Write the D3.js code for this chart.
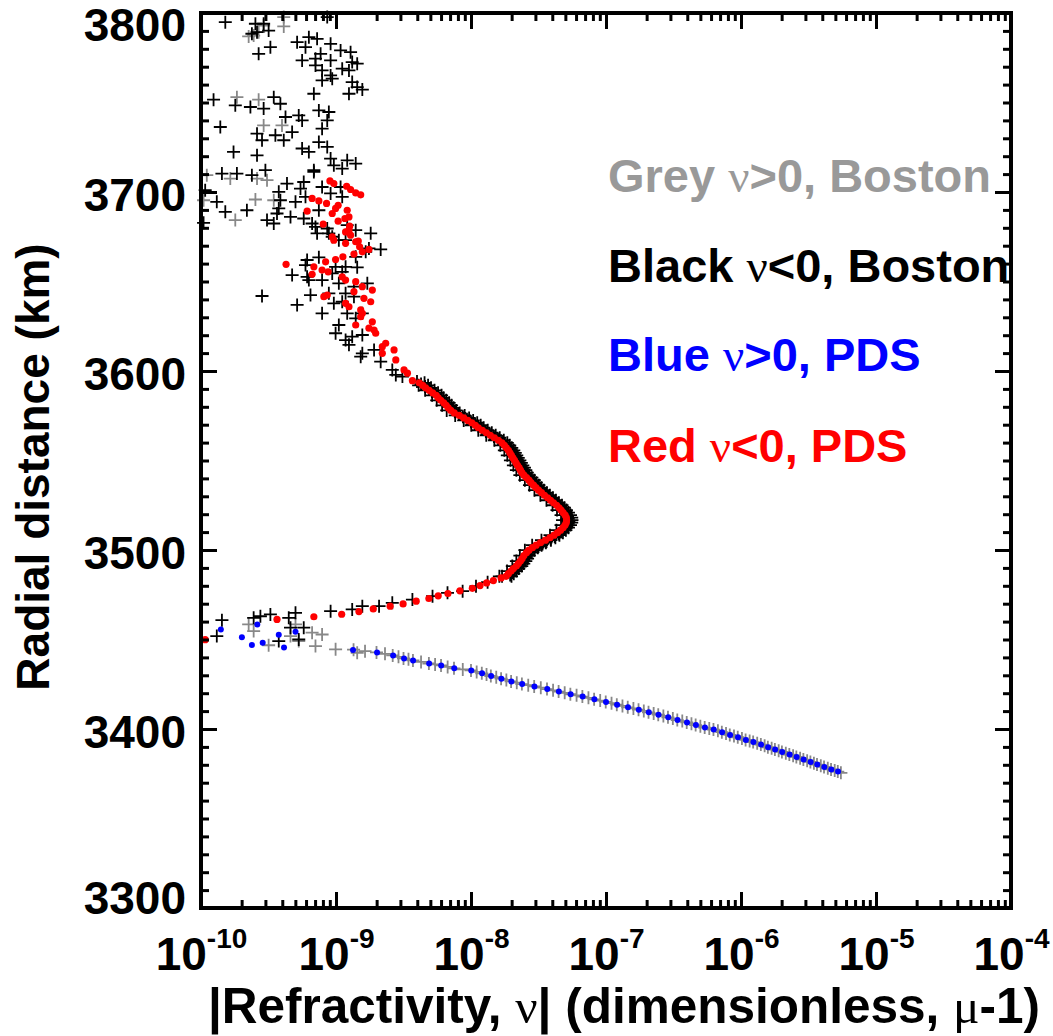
<!DOCTYPE html>
<html><head><meta charset="utf-8">
<script src="https://cdn.jsdelivr.net/npm/d3@7/dist/d3.min.js"></script>
<style>body{margin:0;background:#fff}svg{display:block}</style>
</head><body>
<svg id="chart" width="1053" height="1036"></svg>
<script>
// ---------- axes ----------
const xDomain = [1e-10, 1e-4];
const yDomain = [3300, 3800];
const xMajorExponents = [-10, -9, -8, -7, -6, -5, -4];
const yMajorTicks = [3300, 3400, 3500, 3600, 3700, 3800];
const xTitleParts = ["|Refractivity, ", "\u03BD", "| (dimensionless, ", "\u03BC", "-1)"];
const yTitle = "Radial distance (km)";

// ---------- legend ----------
const legendPrefix = ["Grey ", "Black ", "Blue ", "Red "];
const legendSymbol = ["\u03BD", "\u03BD", "\u03BD", "\u03BD"];
const legendSuffix = [">0, Boston", "<0, Boston", ">0, PDS", "<0, PDS"];
const legendColors = ["#999999", "#000000", "#0000ff", "#ff0000"];

// ---------- data: [radial distance (km), log10 |refractivity|] ----------
// Blue: PDS, nu > 0
const pdsPositive = [
[3444.1,-8.874],[3442.8,-8.696],[3441.1,-8.577],[3439.4,-8.496],[3438.3,-8.429],[3436.6,-8.310],[3435.5,-8.221],
[3433.9,-8.124],[3432.7,-7.998],[3431.1,-7.918],[3429.6,-7.851],[3428.1,-7.775],[3426.6,-7.701],[3425.1,-7.621],
[3423.8,-7.530],[3422.3,-7.435],[3420.9,-7.349],[3419.4,-7.262],[3418.1,-7.173],[3416.6,-7.086],[3415.1,-7.000],
[3413.6,-6.918],[3412.1,-6.837],[3410.8,-6.757],[3409.3,-6.683],[3408.0,-6.611],[3406.5,-6.539],[3405.0,-6.470],
[3403.7,-6.400],[3402.2,-6.334],[3400.8,-6.267],[3399.7,-6.202],[3398.2,-6.140],[3396.7,-6.081],[3395.4,-6.022],
[3393.9,-5.964],[3392.7,-5.908],[3391.3,-5.851],[3389.8,-5.799],[3388.5,-5.747],[3387.2,-5.695],[3385.7,-5.640],
[3384.4,-5.588],[3382.9,-5.536],[3381.6,-5.484],[3380.1,-5.435],[3378.8,-5.383],[3377.4,-5.331],[3376.2,-5.281],
[3455.6,-9.853],[3451.3,-9.697],[3446.9,-9.623],[3458.4,-9.583],[3448.2,-9.543],[3452.6,-9.424],[3445.6,-9.385],[3454.3,-9.300]
];
// Red: PDS, nu < 0
const pdsNegative = [
[3449.9,-9.969],[3461.2,-9.437],[3462.7,-9.164],[3464.1,-8.958],[3465.6,-8.830],[3467.1,-8.724],[3468.6,-8.599],
[3469.9,-8.503],[3471.4,-8.406],[3472.9,-8.312],[3474.4,-8.243],[3475.7,-8.171],[3477.2,-8.082],[3478.6,-7.990],
[3480.1,-7.933],[3481.6,-7.884],[3482.9,-7.834],[3484.4,-7.777],
[3485.3,-7.740],[3486.8,-7.723],[3488.2,-7.703],[3489.6,-7.686],[3491.0,-7.664],[3492.4,-7.649],[3493.8,-7.634],
[3495.2,-7.621],[3496.9,-7.608],[3498.5,-7.589],[3499.9,-7.571],[3501.3,-7.545],[3502.7,-7.517],[3504.1,-7.485],
[3505.5,-7.448],[3506.9,-7.415],[3508.3,-7.385],[3509.7,-7.359],[3511.1,-7.337],[3512.5,-7.318],[3513.9,-7.303],
[3515.3,-7.294],[3516.7,-7.292],[3518.1,-7.294],[3519.5,-7.303],[3520.9,-7.318],[3522.3,-7.333],[3523.6,-7.348],
[3525.0,-7.366],[3526.4,-7.389],[3527.8,-7.411],[3529.2,-7.433],[3530.6,-7.456],[3532.0,-7.478],[3533.4,-7.500],
[3534.8,-7.519],[3536.2,-7.537],[3537.6,-7.556],[3539.0,-7.571],[3540.4,-7.589],[3541.8,-7.608],[3543.2,-7.623],
[3544.6,-7.634],[3546.0,-7.644],[3547.3,-7.656],[3548.7,-7.667],[3550.1,-7.678],[3551.5,-7.690],[3552.9,-7.701],
[3554.3,-7.712],[3555.7,-7.723],[3557.1,-7.738],[3558.5,-7.753],[3559.9,-7.771],[3561.3,-7.797],[3562.7,-7.827],
[3564.1,-7.857],[3565.5,-7.886],[3566.9,-7.916],[3568.3,-7.946],[3569.7,-7.968],[3571.1,-7.994],[3572.4,-8.024],
[3573.8,-8.054],[3575.2,-8.087],[3576.6,-8.124],[3578.0,-8.150],[3579.4,-8.169],[3580.8,-8.184],[3582.2,-8.202],
[3583.6,-8.224],[3585.0,-8.243],[3586.4,-8.258],[3587.8,-8.284],[3589.2,-8.310],[3590.6,-8.336],[3592.0,-8.358],
[3593.4,-8.384],
[3594.6,-8.434],[3598.8,-8.471],[3600.6,-8.496],[3606.2,-8.557],[3611.8,-8.570],[3615.5,-8.632],[3613.6,-8.657],
[3609.9,-8.657],[3621.1,-8.706],[3622.9,-8.718],[3627.5,-8.731],[3623.9,-8.756],[3632.2,-8.805],[3634.1,-8.817],
[3625.7,-8.854],[3635.9,-8.904],[3637.8,-8.929],[3630.3,-8.817],[3640.6,-8.793],[3638.7,-8.743],[3645.2,-8.731],
[3647.1,-8.805],[3649.9,-8.854],[3644.3,-8.867],[3650.8,-8.929],[3652.6,-8.954],[3641.5,-9.090],[3642.4,-9.065],
[3654.0,-9.177],[3658.2,-9.164],[3656.4,-9.103],[3655.4,-9.058],[3661.0,-9.077],[3662.3,-9.003],[3663.8,-8.949],
[3659.6,-9.370],[3665.3,-8.867],[3666.6,-8.805],[3667.9,-8.756],[3669.4,-8.825],[3672.2,-8.854],[3675.9,-8.892],
[3678.7,-8.904],[3677.7,-8.929],[3680.9,-8.899],[3683.7,-8.984],[3685.2,-8.934],[3686.1,-8.904],[3689.8,-8.917],
[3688.0,-9.028],[3690.8,-9.003],[3692.6,-8.984],[3693.6,-9.070],[3695.0,-9.127],[3696.4,-9.177],[3689.3,-9.214],
[3682.0,-9.095],[3675.0,-9.028],[3673.1,-9.016],[3671.3,-8.929],[3698.4,-8.817],[3699.5,-8.854],[3701.4,-8.892],
[3703.2,-8.921],[3704.7,-9.016],[3706.2,-9.045],[3672.6,-8.835]
];
// Grey: Boston, nu > 0
const bostonPositive = [
[3444.3,-8.870],[3443.5,-8.785],[3442.8,-8.700],[3442.0,-8.637],[3441.1,-8.580],[3440.3,-8.537],[3439.4,-8.500],
[3438.9,-8.463],[3438.3,-8.430],[3437.5,-8.370],[3436.6,-8.312],[3436.1,-8.266],[3435.5,-8.222],[3434.7,-8.173],
[3433.9,-8.126],[3433.3,-8.061],[3432.7,-8.000],[3431.9,-7.958],[3431.1,-7.920],[3430.4,-7.885],[3429.6,-7.853],
[3428.9,-7.813],[3428.1,-7.777],[3427.4,-7.738],[3426.6,-7.703],[3425.9,-7.661],[3425.1,-7.623],[3424.5,-7.576],
[3423.8,-7.532],[3423.1,-7.483],[3422.3,-7.437],[3421.6,-7.392],[3420.9,-7.351],[3420.2,-7.306],[3419.4,-7.264],
[3418.8,-7.218],[3418.1,-7.175],[3417.4,-7.130],[3416.6,-7.088],[3415.9,-7.043],[3415.1,-7.002],[3414.4,-6.959],
[3413.6,-6.920],[3412.9,-6.878],[3412.1,-6.839],[3411.5,-6.797],[3410.8,-6.759],[3410.1,-6.720],[3409.3,-6.685],
[3408.7,-6.647],[3408.0,-6.613],[3407.3,-6.575],[3406.5,-6.541],[3405.8,-6.505],[3405.0,-6.472],[3404.4,-6.435],
[3403.7,-6.402],[3403.0,-6.367],[3402.2,-6.336],[3401.5,-6.301],[3400.8,-6.269],[3400.3,-6.235],[3399.7,-6.204],
[3399.0,-6.171],[3398.2,-6.142],[3397.5,-6.111],[3396.7,-6.083],[3396.1,-6.052],[3395.4,-6.024],[3394.7,-5.993],
[3393.9,-5.966],[3393.3,-5.936],[3392.7,-5.910],[3392.0,-5.880],[3391.3,-5.853],[3390.6,-5.825],[3389.8,-5.801],
[3389.2,-5.773],[3388.5,-5.749],[3387.9,-5.721],[3387.2,-5.697],[3386.5,-5.668],[3385.7,-5.642],[3385.1,-5.614],
[3384.4,-5.590],[3383.7,-5.562],[3382.9,-5.538],[3382.3,-5.510],[3381.6,-5.486],[3380.9,-5.460],[3380.1,-5.437],
[3379.5,-5.409],[3378.8,-5.385],[3378.1,-5.357],[3377.4,-5.333],[3376.8,-5.306],[3376.2,-5.283],[3375.5,-5.260],
[3458.4,-9.647],[3454.7,-9.610],[3446.8,-9.499],[3458.4,-9.300],[3451.9,-9.337],[3449.1,-9.276],[3453.8,-9.177],
[3452.8,-9.103],[3446.3,-9.152],[3444.5,-9.003],[3442.6,-8.843],
[3797.7,-9.387],[3792.5,-9.387],[3787.4,-9.610],[3786.9,-9.647],[3793.0,-9.536],[3789.3,-9.573],[3753.0,-9.734],
[3751.6,-9.573],[3737.2,-9.400],[3737.2,-9.536],[3709.4,-9.957],[3707.5,-9.783],[3707.5,-9.585],[3706.6,-9.511],
[3695.4,-9.981],[3695.8,-9.597],[3695.4,-9.461],[3684.3,-9.746]
];
// Black: Boston, nu < 0
const bostonNegative = [
[3794.9,-9.820],[3794.0,-9.597],[3794.0,-9.536],[3790.2,-9.499],[3789.3,-9.585],[3788.4,-9.623],[3797.7,-9.065],
[3780.9,-9.486],[3777.2,-9.573],[3783.7,-9.288],[3786.5,-9.201],[3785.6,-9.140],[3780.9,-9.226],[3782.8,-9.040],
[3779.1,-8.966],[3778.1,-8.892],[3777.2,-9.114],[3774.5,-9.152],[3773.5,-9.251],[3773.5,-9.040],[3772.6,-8.880],
[3771.7,-8.843],[3770.7,-9.152],[3767.9,-9.103],[3768.9,-8.954],[3767.9,-8.904],[3765.1,-9.040],[3763.3,-9.028],
[3762.4,-9.103],[3761.4,-8.880],[3758.6,-8.843],[3757.2,-8.805],[3754.9,-9.164],[3754.9,-8.904],[3751.6,-9.907],
[3748.4,-9.746],[3753.0,-9.461],[3749.3,-9.412],[3747.5,-9.634],[3746.6,-9.536],[3742.8,-9.276],[3745.6,-9.127],
[3744.7,-9.053],[3740.0,-9.065],[3741.9,-9.374],[3736.3,-9.857],[3735.4,-9.103],[3740.0,-9.251],[3732.6,-9.585],
[3731.7,-9.449],[3733.5,-9.325],[3728.9,-9.548],[3728.9,-9.387],[3727.9,-9.127],[3722.4,-9.759],[3720.5,-9.585],
[3724.3,-9.251],[3722.4,-9.201],[3725.2,-9.065],[3718.7,-9.040],[3717.7,-8.917],[3714.9,-9.016],[3715.9,-8.854],
[3713.1,-8.954],[3712.2,-9.164],[3710.3,-9.845],[3710.3,-9.734],[3709.4,-9.623],[3712.2,-9.523],[3704.7,-9.363],
[3705.6,-9.239],[3700.1,-9.424],[3701.9,-9.263],[3702.8,-9.103],[3699.2,-9.040],[3701.0,-9.969],[3694.5,-9.883],
[3695.4,-9.412],[3694.5,-9.300],[3697.3,-9.226],[3688.9,-9.820],[3689.8,-9.660],[3690.8,-9.424],[3686.1,-9.337],
[3689.8,-9.127],[3684.3,-9.511],[3682.4,-9.461],[3685.2,-9.239],[3680.5,-9.152],[3682.8,-9.981],[3676.9,-9.053],
[3678.7,-8.854],[3676.9,-8.743],[3673.1,-8.979],[3676.9,-9.140],[3711.2,-9.164],[3702.8,-8.966],[3697.3,-8.954],
[3688.0,-9.437],[3682.4,-9.177],[3679.6,-9.065],[3681.5,-8.917],[3675.0,-9.028],[3673.1,-8.929],[3666.6,-8.780],
[3668.5,-8.756],[3667.9,-8.669],[3663.8,-8.854],[3663.5,-9.127],[3662.0,-9.214],[3659.2,-9.226],[3658.2,-9.003],
[3658.2,-8.929],[3657.9,-8.843],[3655.4,-8.954],[3654.5,-9.028],[3653.6,-9.325],[3652.6,-9.214],[3650.8,-9.103],
[3649.0,-8.979],[3647.1,-8.867],[3649.0,-8.768],[3650.8,-9.201],[3641.9,-9.548],[3636.9,-9.288],[3642.4,-9.189],
[3643.4,-9.053],[3637.8,-9.016],[3632.2,-9.103],[3643.4,-8.929],[3641.5,-8.867],[3638.7,-8.954],[3632.2,-8.917],
[3625.7,-8.979],[3629.4,-8.854],[3632.2,-8.805],[3621.1,-9.003],[3617.3,-8.929],[3619.2,-8.880],[3620.1,-8.805],
[3614.6,-8.904],[3609.9,-8.805],[3611.8,-8.718],[3605.2,-8.669],[3608.0,-8.817],[3600.6,-8.583],[3597.8,-8.557],
[3596.9,-8.508],
[3486.0,-7.71],[3487.5,-7.69],[3488.9,-7.68],[3490.3,-7.66],[3491.7,-7.64],[3493.1,-7.62],[3494.5,-7.61],
[3496.0,-7.60],[3497.6,-7.58],[3499.2,-7.56],[3500.6,-7.53],[3502.0,-7.50],[3503.4,-7.47],[3504.8,-7.44],
[3506.2,-7.41],[3507.6,-7.38],[3509.0,-7.35],[3510.4,-7.33],[3511.8,-7.31],[3513.2,-7.29],[3514.6,-7.28],
[3516.0,-7.275],[3517.4,-7.28],[3518.8,-7.285],[3520.2,-7.30],[3521.6,-7.31],[3523.0,-7.325],[3524.3,-7.34],
[3525.7,-7.36],[3527.1,-7.385],[3528.5,-7.41],[3529.9,-7.43],[3531.3,-7.45],[3532.7,-7.47],[3534.1,-7.49],
[3535.5,-7.51],[3536.9,-7.53],[3538.3,-7.545],[3539.7,-7.56],[3541.1,-7.58],[3542.5,-7.60],[3543.9,-7.61],
[3545.3,-7.62],[3546.6,-7.635],[3548.0,-7.645],[3549.4,-7.655],[3550.8,-7.665],[3552.2,-7.675],[3553.6,-7.69],
[3555.0,-7.70],[3556.4,-7.71],[3557.8,-7.73],[3559.2,-7.75],[3560.6,-7.77],[3562.0,-7.80],[3563.4,-7.83],
[3564.8,-7.86],[3566.2,-7.89],[3567.6,-7.92],[3569.0,-7.945],[3570.4,-7.97],[3571.7,-8.00],[3573.1,-8.03],
[3574.5,-8.06],[3575.9,-8.09],[3577.3,-8.12],[3578.7,-8.14],[3580.1,-8.16],[3581.5,-8.18],[3582.9,-8.20],
[3584.3,-8.22],[3585.7,-8.24],[3587.1,-8.26],[3588.5,-8.29],[3589.9,-8.31],[3591.3,-8.34],[3592.7,-8.37],
[3594.1,-8.40],
[3485.3,-7.700],[3486.8,-7.683],[3488.2,-7.663],[3489.6,-7.646],[3491.0,-7.624],[3492.4,-7.609],[3493.8,-7.594],
[3495.2,-7.581],[3496.9,-7.568],[3498.5,-7.549],[3499.9,-7.531],[3501.3,-7.505],[3502.7,-7.477],[3504.1,-7.445],
[3505.5,-7.408],[3506.9,-7.375],[3508.3,-7.345],[3509.7,-7.319],[3511.1,-7.297],[3512.5,-7.278],[3513.9,-7.263],
[3515.3,-7.254],[3516.7,-7.252],[3518.1,-7.254],[3519.5,-7.263],[3520.9,-7.278],[3522.3,-7.293],[3523.6,-7.308],
[3525.0,-7.326],[3526.4,-7.349],[3527.8,-7.371],[3529.2,-7.393],[3530.6,-7.416],[3532.0,-7.438],[3533.4,-7.460],
[3534.8,-7.479],[3536.2,-7.497],[3537.6,-7.516],[3539.0,-7.531],[3540.4,-7.549],[3541.8,-7.568],[3543.2,-7.583],
[3544.6,-7.594],[3546.0,-7.604],[3547.3,-7.616],[3548.7,-7.627],[3550.1,-7.638],[3551.5,-7.650],[3552.9,-7.661],
[3554.3,-7.672],[3555.7,-7.683],[3557.1,-7.698],[3558.5,-7.713],[3559.9,-7.731],[3561.3,-7.757],[3562.7,-7.787],
[3564.1,-7.817],[3565.5,-7.846],[3566.9,-7.876],[3568.3,-7.906],[3569.7,-7.928],[3571.1,-7.954],[3572.4,-7.984],
[3573.8,-8.014],[3575.2,-8.047],[3576.6,-8.084],[3578.0,-8.110],[3579.4,-8.129],[3580.8,-8.144],[3582.2,-8.162],
[3583.6,-8.184],[3585.0,-8.203],[3586.4,-8.218],[3587.8,-8.244],[3589.2,-8.270],[3590.6,-8.296],[3592.0,-8.318],
[3593.4,-8.344],
[3485.3,-7.770],[3488.2,-7.733],[3491.0,-7.694],[3493.8,-7.664],[3496.9,-7.638],[3499.9,-7.601],[3502.7,-7.547],
[3505.5,-7.478],[3508.3,-7.415],[3511.1,-7.367],[3513.9,-7.333],[3516.7,-7.322],[3519.5,-7.333],[3522.3,-7.363],
[3525.0,-7.396],[3527.8,-7.441],[3530.6,-7.486],[3533.4,-7.530],[3536.2,-7.567],[3539.0,-7.601],[3541.8,-7.638],
[3544.6,-7.664],[3547.3,-7.686],[3550.1,-7.708],[3552.9,-7.731],[3555.7,-7.753],[3558.5,-7.783],[3561.3,-7.827],
[3564.1,-7.887],[3566.9,-7.946],[3569.7,-7.998],[3572.4,-8.054],[3575.2,-8.117],[3578.0,-8.180],[3580.8,-8.214],
[3583.6,-8.254],[3586.4,-8.288],[3589.2,-8.340],[3592.0,-8.388],
[3460.8,-9.845],[3451.9,-9.883],[3462.1,-9.610],[3463.0,-9.560],[3464.0,-9.486],[3462.1,-9.350],[3464.9,-9.300],
[3456.6,-9.337],[3456.6,-9.239],[3449.1,-9.424],[3450.0,-9.276],[3465.8,-9.040],[3466.8,-8.880],[3468.6,-8.805],
[3468.6,-8.681],[3470.5,-8.583],[3472.3,-8.434],[3474.2,-8.285],[3476.1,-8.174],[3477.0,-8.062],[3479.8,-7.963],
[3482.0,-7.877],[3485.3,-7.790]
];

// ---------- drawing ----------
const W = 1053, H = 1036;
const L = 201, R = 1011, T = 13, B = 908;
const SANS = "'Liberation Sans', Arial, Helvetica, sans-serif";
const SERIF = "'Liberation Serif', 'Times New Roman', serif";

const x = d3.scaleLog().domain(xDomain).range([L, R]);
const y = d3.scaleLinear().domain(yDomain).range([B, T]);
const svg = d3.select("#chart");
svg.append("rect").attr("width", W).attr("height", H).attr("fill", "#fff");

const px = d => x(Math.pow(10, d[1]));
const py = d => y(d[0]);
const crossPath = "M-6.5,0H6.5M0,-6.5V6.5";

const gData = svg.append("g");
function drawCrosses(data, color) {
  gData.append("g").selectAll("path").data(data).join("path")
    .attr("d", crossPath)
    .attr("transform", d => `translate(${px(d)},${py(d)})`)
    .attr("fill", "none").attr("stroke", color).attr("stroke-width", 1.8);
}
function drawDots(data, color, r) {
  gData.append("g").selectAll("circle").data(data).join("circle")
    .attr("cx", px).attr("cy", py).attr("r", r).attr("fill", color);
}
drawCrosses(bostonPositive, "#888888");
drawCrosses(bostonNegative, "#000000");
drawDots(pdsPositive, "#0000ff", 3);
drawDots(pdsNegative, "#ff0000", 3.6);

// legend
const legendY = [192, 282, 371, 462];
legendPrefix.forEach((p, i) => {
  const t = svg.append("text").attr("x", 608).attr("y", legendY[i])
    .attr("font-family", SANS).attr("font-weight", "bold").attr("font-size", 47)
    .attr("fill", legendColors[i]);
  t.append("tspan").text(p);
  t.append("tspan").attr("font-family", SERIF).attr("font-weight", "normal").text(legendSymbol[i]);
  t.append("tspan").text(legendSuffix[i]);
});

// ticks
const xMajor = xMajorExponents.map(e => Math.pow(10, e));
const xMinor = [];
for (let e = -10; e < -4; e++) for (let m = 2; m <= 9; m++) xMinor.push(m * Math.pow(10, e));
const yMinor = d3.range(3310, 3800, 10).filter(v => v % 100 !== 0);

function styleAxis(g) {
  g.select(".domain").remove();
  g.selectAll("line").attr("stroke", "#000").attr("stroke-width", 3);
}
const axes = svg.append("g");
// bottom
axes.append("g").attr("transform", `translate(0,${B})`)
  .call(d3.axisBottom(x).tickValues(xMinor).tickSize(-8).tickFormat(() => "")).call(styleAxis);
const bx = axes.append("g").attr("transform", `translate(0,${B})`)
  .call(d3.axisBottom(x).tickValues(xMajor).tickSize(-16).tickFormat(() => "")).call(styleAxis);
bx.selectAll(".tick text").each(function(d) {
  const t = d3.select(this);
  t.text(null).attr("y", 62).attr("dy", null)
    .attr("font-family", SANS).attr("font-weight", "bold").attr("font-size", 46)
    .attr("fill", "#000").attr("text-anchor", "middle");
  t.append("tspan").text("10");
  t.append("tspan").attr("font-size", 28).attr("dy", -22).text(String(Math.round(Math.log10(d))));
});
// top
axes.append("g").attr("transform", `translate(0,${T})`)
  .call(d3.axisTop(x).tickValues(xMinor).tickSize(-8).tickFormat(() => "")).call(styleAxis);
axes.append("g").attr("transform", `translate(0,${T})`)
  .call(d3.axisTop(x).tickValues(xMajor).tickSize(-16).tickFormat(() => "")).call(styleAxis);
// left
axes.append("g").attr("transform", `translate(${L},0)`)
  .call(d3.axisLeft(y).tickValues(yMinor).tickSize(-8).tickFormat(() => "")).call(styleAxis);
const ly = axes.append("g").attr("transform", `translate(${L},0)`)
  .call(d3.axisLeft(y).tickValues(yMajorTicks).tickSize(-16).tickPadding(15).tickFormat(d3.format("d"))).call(styleAxis);
ly.selectAll(".tick text")
  .attr("font-family", SANS).attr("font-weight", "bold").attr("font-size", 46).attr("fill", "#000")
  .attr("dy", d => d === 3800 ? "0.6em" : d === 3300 ? "0.12em" : "0.4em");
// right
axes.append("g").attr("transform", `translate(${R},0)`)
  .call(d3.axisRight(y).tickValues(yMinor).tickSize(-8).tickFormat(() => "")).call(styleAxis);
axes.append("g").attr("transform", `translate(${R},0)`)
  .call(d3.axisRight(y).tickValues(yMajorTicks).tickSize(-16).tickFormat(() => "")).call(styleAxis);

// frame
axes.append("rect").attr("x", L).attr("y", T).attr("width", R - L).attr("height", B - T)
  .attr("fill", "none").attr("stroke", "#000").attr("stroke-width", 4);

// axis titles
const xt = svg.append("text").attr("x", 624).attr("y", 1023).attr("text-anchor", "middle")
  .attr("font-family", SANS).attr("font-weight", "bold").attr("font-size", 49.5).attr("fill", "#000");
xTitleParts.forEach((s, i) => {
  const sp = xt.append("tspan").text(s);
  if (i === 1 || i === 3) sp.attr("font-family", SERIF).attr("font-weight", "normal");
});
svg.append("text").attr("transform", "translate(49,467) rotate(-90)").attr("text-anchor", "middle")
  .attr("font-family", SANS).attr("font-weight", "bold").attr("font-size", 46).attr("fill", "#000")
  .text(yTitle);
</script>
</body></html>
